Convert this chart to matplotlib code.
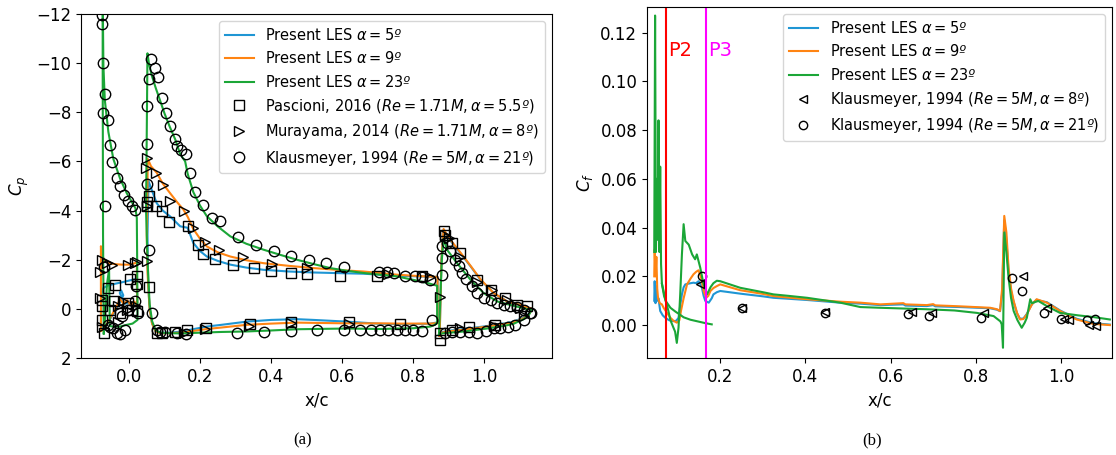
import matplotlib
matplotlib.use('Agg')
import matplotlib.pyplot as plt

# ---- Cp data (x/c, Cp), each element drawn as a closed path ----
a5_slat_x = [-0.079, -0.078, -0.072, -0.060, -0.040, -0.020, 0.000, 0.015, 0.022, 0.023, 0.012, 0.000, -0.012,
             -0.020, -0.026, -0.022, -0.016, -0.024, -0.040, -0.055, -0.068, -0.076, -0.079]
a5_slat_cp = [0.60, -0.60, -0.85, -0.95, -1.02, -1.08, -1.15, -1.20, -1.20, -0.10, -0.20, -0.25, -0.20,
              -0.45, -0.65, -0.75, -0.55, -0.30, 0.10, 0.45, 0.75, 0.85, 0.60]
a5_main_x = [0.868, 0.848, 0.800, 0.754, 0.707, 0.613, 0.519, 0.472, 0.400, 0.331, 0.260, 0.219, 0.180, 0.144,
             0.115, 0.090, 0.075, 0.065, 0.058, 0.054,
             0.052, 0.055, 0.065, 0.078, 0.095, 0.115, 0.144, 0.165, 0.181, 0.200, 0.219, 0.250, 0.285, 0.330,
             0.378, 0.450, 0.519, 0.600, 0.660, 0.754, 0.820, 0.868, 0.868]
a5_main_cp = [0.55, 0.60, 0.62, 0.62, 0.61, 0.52, 0.45, 0.42, 0.45, 0.52, 0.65, 0.72, 0.83, 0.93,
              0.97, 0.97, 0.90, 0.60, 0.00, -1.00,
              -3.00, -5.20, -4.80, -4.30, -4.00, -3.77, -3.36, -3.30, -2.68, -2.35, -2.13, -1.95, -1.80, -1.68,
              -1.59, -1.52, -1.48, -1.45, -1.43, -1.35, -1.32, -1.30, 0.55]
a5_flap_x = [0.874, 0.880, 0.895, 0.942, 1.007, 1.060, 1.083, 1.110, 1.125, 1.135, 1.101, 1.064, 1.026, 0.989,
             0.961, 0.932, 0.909, 0.893, 0.885, 0.879, 0.874]
a5_flap_cp = [1.10, 0.95, 0.90, 0.82, 0.70, 0.58, 0.52, 0.35, 0.20, 0.00, -0.16, -0.30, -0.64, -1.18,
              -1.73, -2.27, -2.68, -3.00, -3.20, -2.00, 1.10]

a9_slat_x = [-0.079, -0.079, -0.076, -0.070, -0.060, -0.040, -0.020, 0.000, 0.015, 0.022, 0.023, 0.015, 0.005,
             -0.005, -0.015, -0.025, -0.035, -0.050, -0.062, -0.072, -0.079]
a9_slat_cp = [0.90, -2.55, -2.20, -2.00, -1.88, -1.82, -1.80, -1.80, -1.85, -1.90, -0.10, -0.30, -0.15,
              -0.35, -0.20, -0.40, -0.10, 0.30, 0.60, 0.85, 0.90]
a9_main_x = [0.868, 0.848, 0.800, 0.754, 0.707, 0.613, 0.519, 0.472, 0.400, 0.331, 0.260, 0.219, 0.180, 0.144,
             0.115, 0.090, 0.075, 0.065, 0.058, 0.052,
             0.050, 0.053, 0.062, 0.078, 0.095, 0.115, 0.135, 0.153, 0.165, 0.181, 0.200, 0.219, 0.250, 0.285,
             0.330, 0.378, 0.450, 0.519, 0.600, 0.660, 0.754, 0.820, 0.868, 0.868]
a9_main_cp = [0.58, 0.60, 0.60, 0.60, 0.59, 0.59, 0.57, 0.56, 0.60, 0.65, 0.76, 0.82, 0.90, 0.97,
              0.99, 0.99, 0.92, 0.60, 0.00, -1.50,
              -3.00, -6.10, -5.80, -5.54, -5.10, -4.72, -4.35, -4.04, -3.75, -3.25, -2.85, -2.54, -2.30, -2.13,
              -1.98, -1.86, -1.75, -1.66, -1.57, -1.52, -1.39, -1.33, -1.30, 0.58]
a9_flap_x = [0.874, 0.880, 0.895, 0.942, 1.007, 1.060, 1.083, 1.110, 1.125, 1.135, 1.101, 1.064, 1.026, 0.989,
             0.961, 0.932, 0.909, 0.893, 0.885, 0.879, 0.874]
a9_flap_cp = [1.10, 0.97, 0.92, 0.85, 0.72, 0.60, 0.55, 0.38, 0.22, 0.00, -0.16, -0.30, -0.64, -1.20,
              -1.75, -2.30, -2.72, -3.05, -3.25, -2.00, 1.10]

a23_slat_x = [-0.071, -0.073, -0.074, -0.074, -0.072, -0.068, -0.058, -0.044, -0.025, -0.006, 0.010, 0.018,
              0.022, 0.023, 0.024, 0.010, -0.006, -0.025, -0.045, -0.054, -0.056, -0.062, -0.067, -0.071]
a23_slat_cp = [1.00, -3.00, -10.00, -12.80, -9.90, -8.50, -7.20, -6.10, -5.30, -4.70, -4.30, -4.10,
               -3.70, -2.00, 0.45, 0.60, 0.65, 0.72, 0.72, 0.70, -1.60, -1.00, 0.30, 1.00]
a23_main_x = [0.867, 0.860, 0.848, 0.800, 0.754, 0.707, 0.613, 0.519, 0.472, 0.400, 0.331, 0.260, 0.219, 0.180,
              0.144, 0.115, 0.090, 0.075, 0.065, 0.058, 0.052,
              0.048, 0.052, 0.056, 0.064, 0.075, 0.087, 0.100, 0.115, 0.130, 0.144, 0.158, 0.165, 0.181, 0.200,
              0.219, 0.250, 0.285, 0.330, 0.378, 0.425, 0.472, 0.520, 0.566, 0.613, 0.660, 0.707, 0.754, 0.800,
              0.840, 0.867, 0.867]
a23_main_cp = [0.57, 0.65, 0.72, 0.79, 0.80, 0.82, 0.80, 0.82, 0.83, 0.88, 0.92, 0.94, 0.96, 0.98,
               1.00, 0.99, 0.97, 0.88, 0.50, -0.20, -2.00,
               -4.00, -10.40, -10.00, -9.50, -9.00, -8.50, -7.95, -7.40, -6.90, -6.30, -6.00, -5.50, -4.75, -4.20,
               -3.77, -3.35, -2.95, -2.65, -2.41, -2.20, -2.00, -1.82, -1.66, -1.55, -1.46, -1.39, -1.32, -1.18,
               -1.05, -0.94, 0.57]
a23_flap_x = [0.872, 0.880, 0.895, 0.942, 1.007, 1.060, 1.083, 1.110, 1.125, 1.132, 1.083, 1.036, 0.998, 0.961,
              0.923, 0.895, 0.885, 0.880, 0.872]
a23_flap_cp = [1.05, 1.00, 0.98, 0.92, 0.80, 0.68, 0.60, 0.42, 0.25, 0.05, -0.12, -0.30, -0.64, -1.18,
               -1.86, -2.40, -2.85, -2.00, 1.05]

# ---- experiments on Cp ----
pasc_x = [-0.077, -0.076, -0.077, -0.070, -0.058, -0.039, 0.003, 0.022, 0.022, -0.041, -0.002, 0.008, 0.022, -0.025, -0.054,
          0.050, 0.052, 0.055, 0.057, 0.075, 0.092, 0.113, 0.167, 0.195, 0.209, 0.242, 0.292, 0.352, 0.399, 0.455, 0.500, 0.594, 0.698, 0.824,
          0.078, 0.092, 0.130, 0.162, 0.217, 0.341, 0.456, 0.618, 0.763,
          0.876, 0.876, 0.885, 0.890, 0.909, 0.932, 0.979, 1.017, 1.059, 1.092, 1.120,
          0.909, 0.956, 1.030]
pasc_cp = [-0.37, -0.10, 0.45, 0.99, -0.84, -0.98, -1.22, -1.32, -1.00, -0.30, -0.23, 0.04, 0.10, 0.18, 0.04,
           -4.20, -4.34, -4.60, -0.89, -4.20, -3.97, -3.54, -3.36, -2.61, -2.24, -2.03, -1.80, -1.66, -1.56, -1.46, -1.43, -1.35, -1.32, -1.32,
           0.99, 0.99, 0.93, 0.86, 0.79, 0.61, 0.54, 0.54, 0.61,
           1.27, 1.00, -3.16, -3.00, -2.68, -2.27, -1.18, -0.75, -0.44, -0.16, -0.10,
           0.86, 0.72, 0.65]

mura_x = [-0.082, -0.077, -0.063, -0.049, -0.002, 0.017, 0.022, -0.082, -0.077, -0.030, -0.016, -0.007, 0.020, -0.030,
          0.048, 0.052, 0.050, 0.052, 0.076, 0.095, 0.115, 0.155, 0.181, 0.214, 0.254, 0.320, 0.402, 0.500, 0.730, 0.848,
          0.155, 0.214, 0.339, 0.456, 0.618,
          0.876, 0.890, 0.900, 0.932, 0.979, 1.022, 1.064, 1.101,
          0.932, 1.026, 1.110]
mura_cp = [-1.52, -2.00, -1.86, -1.80, -1.80, -1.86, -1.90, -0.44, 0.72, -0.10, -0.30, 0.04, -0.10, 0.52,
           -5.74, -6.15, -4.20, -1.93, -5.54, -5.03, -4.38, -4.00, -3.28, -2.73, -2.38, -2.11, -1.82, -1.66, -1.43, -1.28,
           0.97, 0.83, 0.69, 0.59, 0.61,
           -0.50, -3.00, -2.90, -2.13, -1.11, -0.78, -0.37, -0.03,
           0.79, 0.69, 0.31]

klau_x = [-0.075, -0.075, -0.072, -0.067, -0.072, -0.060, -0.054, -0.047, -0.035, -0.025, -0.013, -0.002, 0.008, 0.018, -0.068, -0.070,
          -0.044, -0.035, -0.025, -0.054, -0.011, -0.021, -0.002, 0.024, 0.017, -0.058, 0.020,
          0.052, 0.052, 0.052, 0.057, 0.056, 0.062, 0.073, 0.081, 0.092, 0.104, 0.115, 0.130, 0.136, 0.146, 0.161, 0.172,
          0.186, 0.209, 0.233, 0.256, 0.308, 0.358, 0.407, 0.456, 0.505, 0.553, 0.604, 0.702, 0.726, 0.745, 0.777, 0.806, 0.825, 0.848,
          0.064, 0.078, 0.087, 0.101, 0.134, 0.161, 0.305, 0.381, 0.456, 0.529, 0.604, 0.651, 0.681, 0.707, 0.730, 0.754, 0.777, 0.800, 0.824, 0.853,
          0.881, 0.881, 0.881, 0.895, 0.904, 0.918, 0.928, 0.937, 0.949, 0.965, 0.979, 0.998, 1.017, 1.036, 1.054, 1.073, 1.092, 1.111, 1.130,
          0.890, 0.909, 0.932, 0.956, 0.979, 1.003, 1.026, 1.045, 1.066, 1.087, 1.111, 1.128]
klau_cp = [-11.96, -11.60, -10.00, -8.73, -7.96, -7.69, -6.67, -5.99, -5.33, -4.99, -4.65, -4.38, -4.18, -4.01, -4.20, -1.70,
           0.79, 0.99, 1.03, 0.72, 0.86, 0.31, 0.04, 0.18, -0.30, 0.65, -0.91,
           -8.26, -6.69, -5.09, -2.41, -9.35, -10.16, -9.82, -9.42, -8.60, -7.99, -7.44, -6.90, -6.63, -6.46, -6.29, -5.54,
           -4.75, -4.24, -3.70, -3.56, -2.91, -2.61, -2.37, -2.14, -2.00, -1.85, -1.70, -1.48, -1.48, -1.45, -1.32, -1.32, -1.30, -1.18,
           0.18, 0.86, 0.94, 0.94, 0.99, 1.03, 0.97, 0.94, 0.90, 0.86, 0.86, 0.86, 0.86, 0.86, 0.86, 0.86, 0.86, 0.86, 0.90, 0.45,
           -1.39, -2.07, -2.54, -2.68, -2.34, -2.00, -1.73, -1.46, -1.21, -0.91, -0.64, -0.44, -0.37, -0.23, -0.16, -0.10, -0.07, 0.04, 0.18,
           0.99, 0.93, 0.93, 0.93, 0.97, 0.90, 0.79, 0.79, 0.72, 0.65, 0.45, 0.15]

# ---- Cf data ----
cf5_x = [0.045, 0.046, 0.048, 0.050, 0.052, 0.055, 0.059, 0.065, 0.071, 0.080, 0.090, 0.097, 0.102, 0.106, 0.110,
         0.114, 0.118, 0.125, 0.137, 0.143, 0.149, 0.153, 0.157, 0.161, 0.165, 0.173, 0.180, 0.184, 0.192, 0.200,
         0.247, 0.300, 0.325, 0.360, 0.404, 0.482, 0.529, 0.576, 0.630, 0.635, 0.685, 0.700, 0.705, 0.763, 0.834,
         0.850, 0.857, 0.862, 0.867, 0.872, 0.877, 0.883, 0.889, 0.897, 0.904, 0.912, 0.920, 0.926, 0.932, 0.943,
         0.955, 0.967, 0.998, 1.037, 1.076, 1.115]
cf5 = [0.010, 0.018, 0.009, 0.016, 0.010, 0.011, 0.0058, 0.0040, 0.0030, 0.0020, 0.0016, 0.0018, 0.0030, 0.0080, 0.0126,
       0.0155, 0.0167, 0.0170, 0.0174, 0.0172, 0.0180, 0.0170, 0.0153, 0.0120, 0.0099, 0.0092, 0.0110, 0.0126, 0.0135, 0.0140,
       0.0129, 0.0118, 0.0112, 0.0108, 0.0103, 0.0092, 0.0088, 0.0082, 0.0085, 0.0080, 0.0078, 0.0082, 0.0077, 0.0074, 0.0069,
       0.0063, 0.0057, 0.0130, 0.0430, 0.0350, 0.0220, 0.0140, 0.0095, 0.0048, 0.0026, 0.0027, 0.0046, 0.0066, 0.0086, 0.0104,
       0.0098, 0.0094, 0.0060, 0.0026, 0.0008, 0.0002]

cf9_x = [0.045, 0.046, 0.048, 0.050, 0.052, 0.054, 0.058, 0.063, 0.067, 0.075, 0.083, 0.090, 0.098, 0.104, 0.108,
         0.114, 0.122, 0.130, 0.137, 0.143, 0.149, 0.155, 0.161, 0.167, 0.172, 0.177, 0.184, 0.192, 0.200,
         0.247, 0.300, 0.325, 0.360, 0.404, 0.482, 0.529, 0.576, 0.630, 0.635, 0.685, 0.700, 0.705, 0.763, 0.834,
         0.850, 0.857, 0.862, 0.867, 0.872, 0.877, 0.883, 0.889, 0.897, 0.904, 0.912, 0.920, 0.926, 0.932, 0.943,
         0.955, 0.967, 0.998, 1.037, 1.076, 1.115]
cf9 = [0.020, 0.031, 0.020, 0.028, 0.015, 0.011, 0.0090, 0.0085, 0.0071, 0.0050, 0.0030, 0.0018, 0.0010, 0.0020, 0.0060,
       0.0110, 0.0167, 0.0190, 0.0208, 0.0218, 0.0225, 0.0195, 0.0140, 0.0112, 0.0120, 0.0140, 0.0152, 0.0160, 0.0167,
       0.0143, 0.0128, 0.0119, 0.0113, 0.0106, 0.0096, 0.0092, 0.0085, 0.0090, 0.0085, 0.0082, 0.0086, 0.0081, 0.0077, 0.0071,
       0.0065, 0.0058, 0.0150, 0.0448, 0.0380, 0.0236, 0.0150, 0.0099, 0.0050, 0.0023, 0.0025, 0.0044, 0.0065, 0.0085, 0.0106,
       0.0099, 0.0092, 0.0058, 0.0023, 0.0005, 0.0000]

cf23_x = [0.045, 0.047, 0.049, 0.051, 0.053, 0.055, 0.057, 0.059, 0.061, 0.063, 0.068, 0.072, 0.078, 0.083, 0.090,
          0.094, 0.098, 0.102, 0.106, 0.110, 0.114, 0.118, 0.126, 0.134, 0.141, 0.145, 0.153, 0.161, 0.169, 0.177,
          0.184, 0.192, 0.200, 0.247, 0.300, 0.325, 0.360, 0.404, 0.482, 0.529, 0.576, 0.630, 0.685, 0.750, 0.803,
          0.842, 0.858, 0.861, 0.864, 0.867, 0.872, 0.877, 0.883, 0.889, 0.898, 0.908, 0.915, 0.920, 0.928, 0.932,
          0.940, 0.947, 0.970, 0.998, 1.040, 1.076, 1.115]
cf23 = [0.030, 0.127, 0.030, 0.060, 0.035, 0.084, 0.030, 0.065, 0.025, 0.017, 0.012, 0.0099, 0.0060, 0.0020, -0.0010,
        -0.0027, -0.0073, -0.0011, 0.0126, 0.0290, 0.0414, 0.0345, 0.0330, 0.0290, 0.0270, 0.0290, 0.0236, 0.0167, 0.0126, 0.0155,
        0.0172, 0.0182, 0.0180, 0.0153, 0.0135, 0.0126, 0.0120, 0.0112, 0.0092, 0.0074, 0.0071, 0.0068, 0.0065, 0.0060, 0.0050,
        0.0037, 0.0015, 0.0003, -0.0093, 0.0380, 0.0300, 0.0195, 0.0110, 0.0058, 0.0020, -0.0011, 0.0010, 0.0030, 0.0106, 0.0090,
        0.0095, 0.0099, 0.0075, 0.0050, 0.0040, 0.0033, 0.0023]
cf23b_x = [0.063, 0.072, 0.083, 0.095, 0.106, 0.114, 0.130, 0.145, 0.165, 0.180]
cf23b = [0.017, 0.0099, 0.0071, 0.0055, 0.0042, 0.0032, 0.0022, 0.0016, 0.0008, 0.0003]

klau8_x = [0.153, 0.251, 0.446, 0.650, 0.697, 0.820, 0.912, 0.967, 1.008, 1.020, 1.067, 1.083]
klau8_cf = [0.0167, 0.0072, 0.0053, 0.0053, 0.0048, 0.0048, 0.0201, 0.0069, 0.0027, 0.0022, 0.0000, -0.0004]
klau21_x = [0.157, 0.251, 0.446, 0.642, 0.691, 0.812, 0.885, 0.908, 0.961, 1.001, 1.061, 1.080]
klau21_cf = [0.0201, 0.0071, 0.0050, 0.0044, 0.0037, 0.0030, 0.0195, 0.0140, 0.0049, 0.0027, 0.0019, 0.0023]

probe_x = [0.0725, 0.1655]
probe_names = ['P2', 'P3']

c5, c9, c23 = '#1f96d4', '#ff8412', '#1ba637'

plt.rcParams['font.family'] = 'DejaVu Sans'
fig = plt.figure(figsize=(11.16, 4.55), dpi=100)

# (a) pressure coefficient
ax1 = fig.add_axes([81 / 1116, 97 / 455, 471 / 1116, 344 / 455])
for xs, ys, c, lab in [(a5_slat_x, a5_slat_cp, c5, None), (a5_main_x, a5_main_cp, c5, None),
                       (a5_flap_x, a5_flap_cp, c5, r'Present LES $\alpha = 5º$'),
                       (a9_slat_x, a9_slat_cp, c9, None), (a9_main_x, a9_main_cp, c9, None),
                       (a9_flap_x, a9_flap_cp, c9, r'Present LES $\alpha = 9º$'),
                       (a23_slat_x, a23_slat_cp, c23, None), (a23_main_x, a23_main_cp, c23, None),
                       (a23_flap_x, a23_flap_cp, c23, r'Present LES $\alpha = 23º$')]:
    ax1.plot(xs, ys, color=c, lw=1.5, label=lab)
# put legend order right: lines first
h, l = ax1.get_legend_handles_labels()
ax1.plot(pasc_x, pasc_cp, 's', mfc='none', mec='k', ms=7, mew=1,
         label=r'Pascioni, 2016 ($Re = 1.71M, \alpha = 5.5º$)')
ax1.plot(mura_x, mura_cp, '>', mfc='none', mec='k', ms=7, mew=1,
         label=r'Murayama, 2014 ($Re = 1.71M, \alpha = 8º$)')
ax1.plot(klau_x, klau_cp, 'o', mfc='none', mec='k', ms=7.5, mew=1,
         label=r'Klausmeyer, 1994 ($Re = 5M, \alpha = 21º$)')
ax1.set_xlim(-0.135, 1.19)
ax1.set_ylim(2, -12)
ax1.set_yticks(range(-12, 3, 2))
ax1.set_xticks([0.0, 0.2, 0.4, 0.6, 0.8, 1.0])
ax1.tick_params(labelsize=12)
ax1.set_xlabel('x/c', fontsize=12)
ax1.set_ylabel(r'$C_p$', fontsize=12)
ax1.legend(loc='upper right', fontsize=10.5)

# (b) skin friction
ax2 = fig.add_axes([647 / 1116, 97 / 455, 465 / 1116, 351 / 455])
ax2.plot(cf5_x, cf5, color=c5, lw=1.5, label=r'Present LES $\alpha = 5º$')
ax2.plot(cf9_x, cf9, color=c9, lw=1.5, label=r'Present LES $\alpha = 9º$')
ax2.plot(cf23_x, cf23, color=c23, lw=1.5, label=r'Present LES $\alpha = 23º$')
ax2.plot(cf23b_x, cf23b, color=c23, lw=1.5)
ax2.plot(klau8_x, klau8_cf, '<', mfc='none', mec='k', ms=6, mew=1,
         label=r'Klausmeyer, 1994 ($Re = 5M, \alpha = 8º$)')
ax2.plot(klau21_x, klau21_cf, 'o', mfc='none', mec='k', ms=6, mew=1,
         label=r'Klausmeyer, 1994 ($Re = 5M, \alpha = 21º$)')
for xp, name, col in zip(probe_x, probe_names, ['red', 'magenta']):
    ax2.axvline(xp, color=col, lw=1.5)
    ax2.text(xp + 0.006, 0.1127, name, color=col, fontsize=14, va='center')
ax2.set_xlim(0.028, 1.12)
ax2.set_ylim(-0.0135, 0.1305)
ax2.set_xticks([0.2, 0.4, 0.6, 0.8, 1.0])
ax2.set_yticks([0.00, 0.02, 0.04, 0.06, 0.08, 0.10, 0.12])
ax2.yaxis.set_major_formatter(matplotlib.ticker.FormatStrFormatter('%.2f'))
ax2.tick_params(labelsize=12)
ax2.set_xlabel('x/c', fontsize=12)
ax2.set_ylabel(r'$C_f$', fontsize=12)
ax2.legend(loc='upper right', fontsize=10.5)

fig.text(303 / 1116, 15 / 455, '(a)', family='Liberation Serif', fontsize=12, ha='center', va='center')
fig.text(872 / 1116, 15 / 455, '(b)', family='Liberation Serif', fontsize=12, ha='center', va='center')

fig.savefig('out.png', dpi=100)
